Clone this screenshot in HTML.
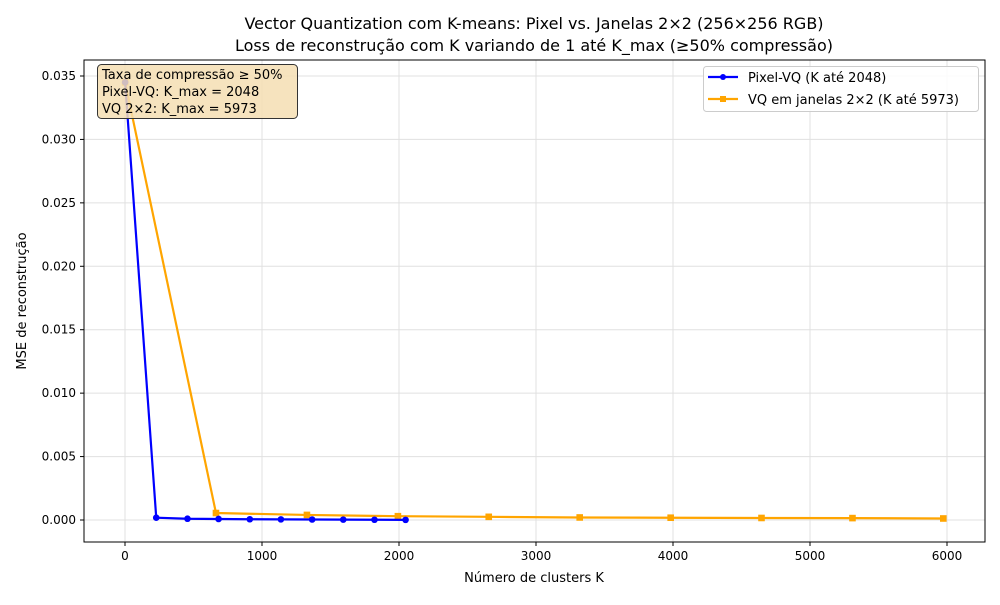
<!DOCTYPE html>
<html><head><meta charset="utf-8"><style>
body{margin:0;background:#fff;font-family:"Liberation Sans","DejaVu Sans",sans-serif}
svg text{font-family:"DejaVu Sans","Liberation Sans",sans-serif}
</style></head><body>
<svg id="chart" width="1000" height="600">
<text x="534" y="29" font-size="16" text-anchor="middle">Vector Quantization com K-means: Pixel vs. Janelas 2×2 (256×256 RGB)</text>
<text x="534" y="51" font-size="16" text-anchor="middle">Loss de reconstrução com K variando de 1 até K_max (≥50% compressão)</text>
<g id="grid"></g><g id="axes"></g><g id="series"></g>
<rect x="84" y="60" width="901" height="482" fill="none" stroke="#000" stroke-width="1"/>
<text x="534" y="582" font-size="13" text-anchor="middle">Número de clusters K</text>
<text transform="translate(26,301) rotate(-90)" font-size="13" text-anchor="middle">MSE de reconstrução</text>
<g>
<rect x="97.5" y="64.5" width="200" height="54" rx="4" fill="#f5deb3" fill-opacity="0.85" stroke="#333"/>
<text x="102" y="79" font-size="13">Taxa de compressão ≥ 50%</text>
<text x="102" y="96" font-size="13">Pixel-VQ: K_max = 2048</text>
<text x="102" y="113" font-size="13">VQ 2×2: K_max = 5973</text>
</g>
<g>
<rect x="703.5" y="66.5" width="275" height="45" rx="3" fill="#fff" fill-opacity="0.85" stroke="#ccc"/>
<line x1="708" y1="77" x2="738" y2="77" stroke="blue" stroke-width="2.2"/><circle cx="723" cy="77" r="3" fill="blue"/>
<text x="748" y="82" font-size="13">Pixel-VQ (K até 2048)</text>
<line x1="708" y1="99" x2="738" y2="99" stroke="orange" stroke-width="2.2"/><rect x="720" y="96" width="6" height="6" fill="orange"/>
<text x="748" y="104" font-size="13">VQ em janelas 2×2 (K até 5973)</text>
</g>
</svg>
<script>
const xTicks=[0,1000,2000,3000,4000,5000,6000];
const yTicks=[0,0.005,0.01,0.015,0.02,0.025,0.03,0.035];
const yTickLabels=["0.000","0.005","0.010","0.015","0.020","0.025","0.030","0.035"];
const pixelK=[1,228,456,683,911,1138,1366,1593,1821,2048];
const pixelMSE=[0.0345,0.00018,0.0001,0.00008,0.00006,0.00005,0.00004,0.00003,0.00002,0.00001];
const winK=[1,664,1328,1992,2655,3319,3983,4646,5310,5973];
const winMSE=[0.0345,0.00055,0.0004,0.0003,0.00025,0.0002,0.00018,0.00016,0.00015,0.00012];
const NS="http://www.w3.org/2000/svg";
const X=v=>125+v*0.137, Y=v=>520-v*(444/0.035);
function mk(t,a,p){const e=document.createElementNS(NS,t);for(const k in a)e.setAttribute(k,a[k]);p.appendChild(e);return e;}
const g=document.getElementById('grid'),ax=document.getElementById('axes'),s=document.getElementById('series');
xTicks.forEach(t=>{const x=X(t);
mk('line',{x1:x,x2:x,y1:60,y2:542,stroke:'#e0e0e0'},g);
mk('line',{x1:x,x2:x,y1:542,y2:546,stroke:'#000'},ax);
const tx=mk('text',{x:x,y:560,'font-size':12,'text-anchor':'middle'},ax);tx.textContent=t;

});
yTicks.forEach((t,i)=>{const y=Y(t);
mk('line',{x1:84,x2:985,y1:y,y2:y,stroke:'#e0e0e0'},g);
mk('line',{x1:80,x2:84,y1:y,y2:y,stroke:'#000'},ax);
const tx=mk('text',{x:76,y:y+4,'font-size':12,'text-anchor':'end'},ax);tx.textContent=yTickLabels[i];

});
function series(K,M,color,sq,name){
const pl=mk('polyline',{points:K.map((k,i)=>X(k)+','+Y(M[i])).join(' '),fill:'none',stroke:color,'stroke-width':2.2},s);


K.forEach((k,i)=>{const m=sq?mk('rect',{x:X(k)-3.3,y:Y(M[i])-3.3,width:6.6,height:6.6,fill:color},s):mk('circle',{cx:X(k),cy:Y(M[i]),r:3.3,fill:color},s);

});}
series(winK,winMSE,'orange',true,'window-vq');
series(pixelK,pixelMSE,'blue',false,'pixel-vq');
</script>
</body></html>
